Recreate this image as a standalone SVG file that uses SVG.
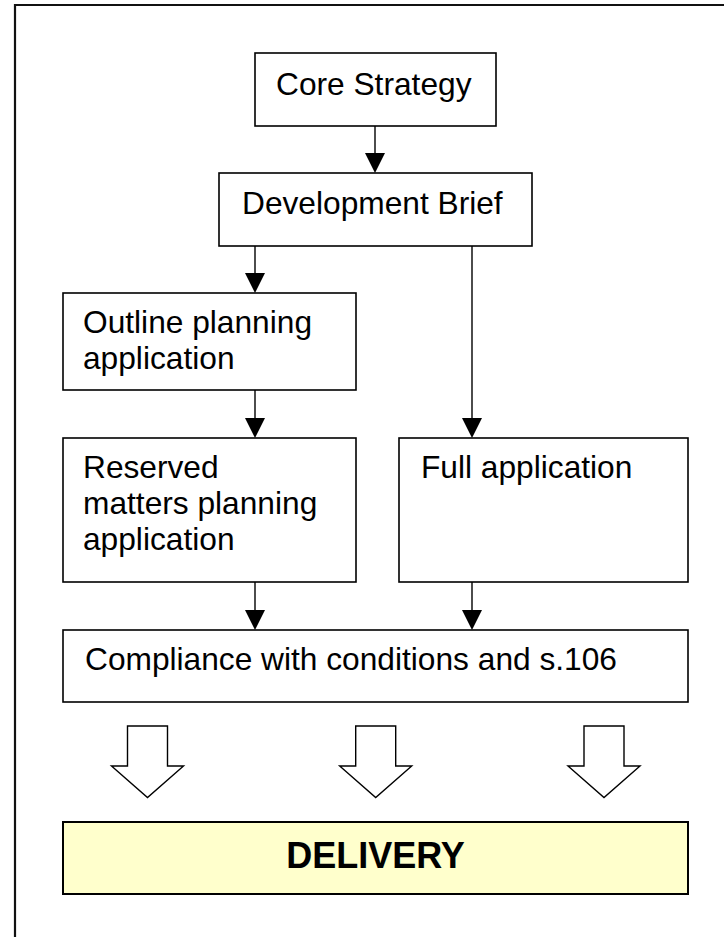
<svg xmlns="http://www.w3.org/2000/svg" width="724" height="937" viewBox="0 0 724 937">
<style>
.box{fill:#fff;stroke:#000;stroke-width:1.6}
.t{font-family:"Liberation Sans",Arial,sans-serif;font-size:31.7px;fill:#000}
.c{fill:none;stroke:#000;stroke-width:1.4}
.h{fill:#000;stroke:none}
.hollow{fill:#fff;stroke:#000;stroke-width:1.4;stroke-linejoin:miter}
</style>
<rect width="724" height="937" fill="#fff"/>
<g id="frame">
<path d="M15,937 V5 H724" fill="none" stroke="#111" stroke-width="2.2"/>
</g>
<g id="core">
<rect class="box" x="255" y="53" width="241" height="73"/>
<text class="t" x="276" y="95">Core Strategy</text>
</g>
<g id="brief">
<rect class="box" x="219" y="173" width="313" height="73"/>
<text class="t" x="242" y="214">Development Brief</text>
</g>
<g id="outline">
<rect class="box" x="63" y="293" width="293" height="97"/>
<text class="t" x="83" y="333">Outline planning</text>
<text class="t" x="83" y="369">application</text>
</g>
<g id="reserved">
<rect class="box" x="63" y="438" width="293" height="144"/>
<text class="t" x="83" y="478">Reserved</text>
<text class="t" x="83" y="514">matters planning</text>
<text class="t" x="83" y="550">application</text>
</g>
<g id="full">
<rect class="box" x="399" y="438" width="289" height="144"/>
<text class="t" x="421" y="478">Full application</text>
</g>
<g id="compliance">
<rect class="box" x="63" y="630" width="625" height="72"/>
<text class="t" x="85" y="670">Compliance with conditions and s.106</text>
</g>
<g id="delivery">
<rect x="63" y="822" width="625" height="72" fill="#ffffcc" stroke="#000" stroke-width="2"/>
<text x="375.5" y="868" text-anchor="middle" font-family="'Liberation Sans',Arial,sans-serif" font-size="36" font-weight="bold" fill="#000">DELIVERY</text>
</g>
<g id="connectors">
<line class="c" x1="375" y1="126" x2="375" y2="155"/>
<path class="h" d="M365,153 L385,153 L375,173 Z"/>
<line class="c" x1="255" y1="246" x2="255" y2="275"/>
<path class="h" d="M245,273 L265,273 L255,293 Z"/>
<line class="c" x1="255" y1="390" x2="255" y2="420"/>
<path class="h" d="M245,418 L265,418 L255,438 Z"/>
<line class="c" x1="472" y1="246" x2="472" y2="420"/>
<path class="h" d="M462,418 L482,418 L472,438 Z"/>
<line class="c" x1="255" y1="582" x2="255" y2="612"/>
<path class="h" d="M245,610 L265,610 L255,630 Z"/>
<line class="c" x1="472" y1="582" x2="472" y2="612"/>
<path class="h" d="M462,610 L482,610 L472,630 Z"/>
<path class="hollow" d="M127.5,726 H167.5 V766 H183.5 L147.5,797.5 L111.5,766 H127.5 Z"/>
<path class="hollow" d="M355.7,726 H395.7 V766 H411.7 L375.7,797.5 L339.7,766 H355.7 Z"/>
<path class="hollow" d="M584,726 H624 V766 H640 L604,797.5 L568,766 H584 Z"/>
</g>
</svg>
